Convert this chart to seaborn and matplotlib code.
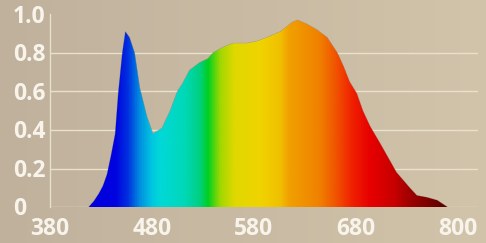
import numpy as np
import pandas as pd
import matplotlib
matplotlib.use("Agg")
import matplotlib.pyplot as plt
import matplotlib.transforms as mtransforms
import seaborn as sns
from matplotlib.colors import LinearSegmentedColormap

# ------------------------------------------------------------
# Spectrum data
# ------------------------------------------------------------

wavelength = [418, 423, 428, 432, 436, 440, 444, 447, 451, 454, 458, 463,
              468, 475, 481, 490, 498, 505, 510, 517, 527, 535, 540, 550,
              560, 573, 583, 593, 606, 618, 623, 632, 642, 652, 662, 668,
              674, 681, 687, 694, 704, 720, 733, 740, 750, 760, 770]
intensity = [0.0, 0.03, 0.07, 0.11, 0.17, 0.27, 0.38, 0.59, 0.80, 0.91, 0.88, 0.80,
             0.62, 0.47, 0.38, 0.41, 0.50, 0.60, 0.64, 0.71, 0.75, 0.77, 0.80, 0.83,
             0.85, 0.85, 0.86, 0.88, 0.91, 0.96, 0.97, 0.95, 0.92, 0.88, 0.80, 0.73,
             0.65, 0.59, 0.50, 0.42, 0.33, 0.18, 0.10, 0.06, 0.05, 0.035, 0.0]

x_ticks = [380, 480, 580, 680, 800]
y_ticks = [0, 0.2, 0.4, 0.6, 0.8, 1.0]
y_tick_labels = ["0", "0.2", "0.4", "0.6", "0.8", "1.0"]

df = pd.DataFrame({"wavelength": wavelength, "intensity": intensity})

# Rainbow colour stops (wavelength, colour)
color_stops = [
    (380, "#0000d8"), (424, "#0000dd"), (444, "#0004e0"), (456, "#0030e0"),
    (468, "#0090e0"), (480, "#00c8e0"), (488, "#00d8d8"), (512, "#00d8b8"),
    (527, "#00d080"), (535, "#00d020"), (547, "#a0d800"), (561, "#e0d800"),
    (586, "#f0d400"), (606, "#f0c000"), (615, "#f0a000"), (645, "#f08000"),
    (662, "#f05000"), (677, "#f02000"), (694, "#e80000"), (718, "#c80000"),
    (733, "#a00000"), (766, "#600000"), (800, "#500000"),
]

bg_left = "#bfb19c"
bg_right = "#d2c4aa"
grid_color = "#eae0cc"
text_color = "#f8f4ec"

sns.set_style("white")
plt.rcParams["font.family"] = ["Open Sans", "DejaVu Sans"]

fig = plt.figure(figsize=(4.86, 2.43), dpi=100)

# Background gradient
bg_ax = fig.add_axes([0, 0, 1, 1], zorder=-1)
bg_cmap = LinearSegmentedColormap.from_list("bg", [bg_left, bg_right])
bg_ax.imshow(np.linspace(0, 1, 256).reshape(1, -1), cmap=bg_cmap,
             aspect="auto", extent=[0, 1, 0, 1])
bg_ax.axis("off")

ax = fig.add_axes([0.1029, 0.148, 0.8806, 0.7927])
ax.patch.set_alpha(0)

# Outline of the spectrum
sns.lineplot(data=df, x="wavelength", y="intensity", ax=ax,
             color="#302010", alpha=0.25, linewidth=0.6)

# Rainbow fill clipped to the area under the curve
poly = ax.fill_between(df["wavelength"], df["intensity"], 0,
                       facecolor="none", edgecolor="none")
lo, hi = color_stops[0][0], color_stops[-1][0]
spec_cmap = LinearSegmentedColormap.from_list(
    "spec", [((w - lo) / (hi - lo), c) for w, c in color_stops])
grad = ax.imshow(np.linspace(0, 1, 512).reshape(1, -1), cmap=spec_cmap,
                 aspect="auto", extent=[lo, hi, 0, 1], zorder=2)
grad.set_clip_path(poly.get_paths()[0], transform=ax.transData)

# Grid lines
for y in y_ticks[:-1]:
    ax.axhline(y, color=grid_color, linewidth=1.0, zorder=1)

ax.set_xlim(380, 800)
ax.set_ylim(0, 1.0)

for s in ["top", "right", "bottom"]:
    ax.spines[s].set_visible(False)
ax.spines["left"].set_color(grid_color)
ax.spines["left"].set_linewidth(1.0)

# X tick labels
ax.set_xticks(x_ticks)
ax.set_xticklabels([str(v) for v in x_ticks])
ax.tick_params(axis="x", length=0, pad=7, labelsize=16.5,
               labelcolor=text_color)
for lab in ax.get_xticklabels():
    lab.set_fontweight("bold")
ax.get_xticklabels()[-1].set_horizontalalignment("right")

# Y tick labels, left aligned near the figure edge
ax.set_yticks(y_ticks)
ax.set_yticklabels([])
ax.tick_params(axis="y", length=0)
trans = mtransforms.blended_transform_factory(fig.transFigure, ax.transData)
for y, txt in zip(y_ticks, y_tick_labels):
    ax.text(13 / 486, y - 0.012, txt, transform=trans, ha="left",
            va="center", fontsize=16.5, fontweight="bold",
            color=text_color, clip_on=False)

ax.set_xlabel("")
ax.set_ylabel("")

fig.savefig("out.png", dpi=100, facecolor=bg_left)
plt.close(fig)
